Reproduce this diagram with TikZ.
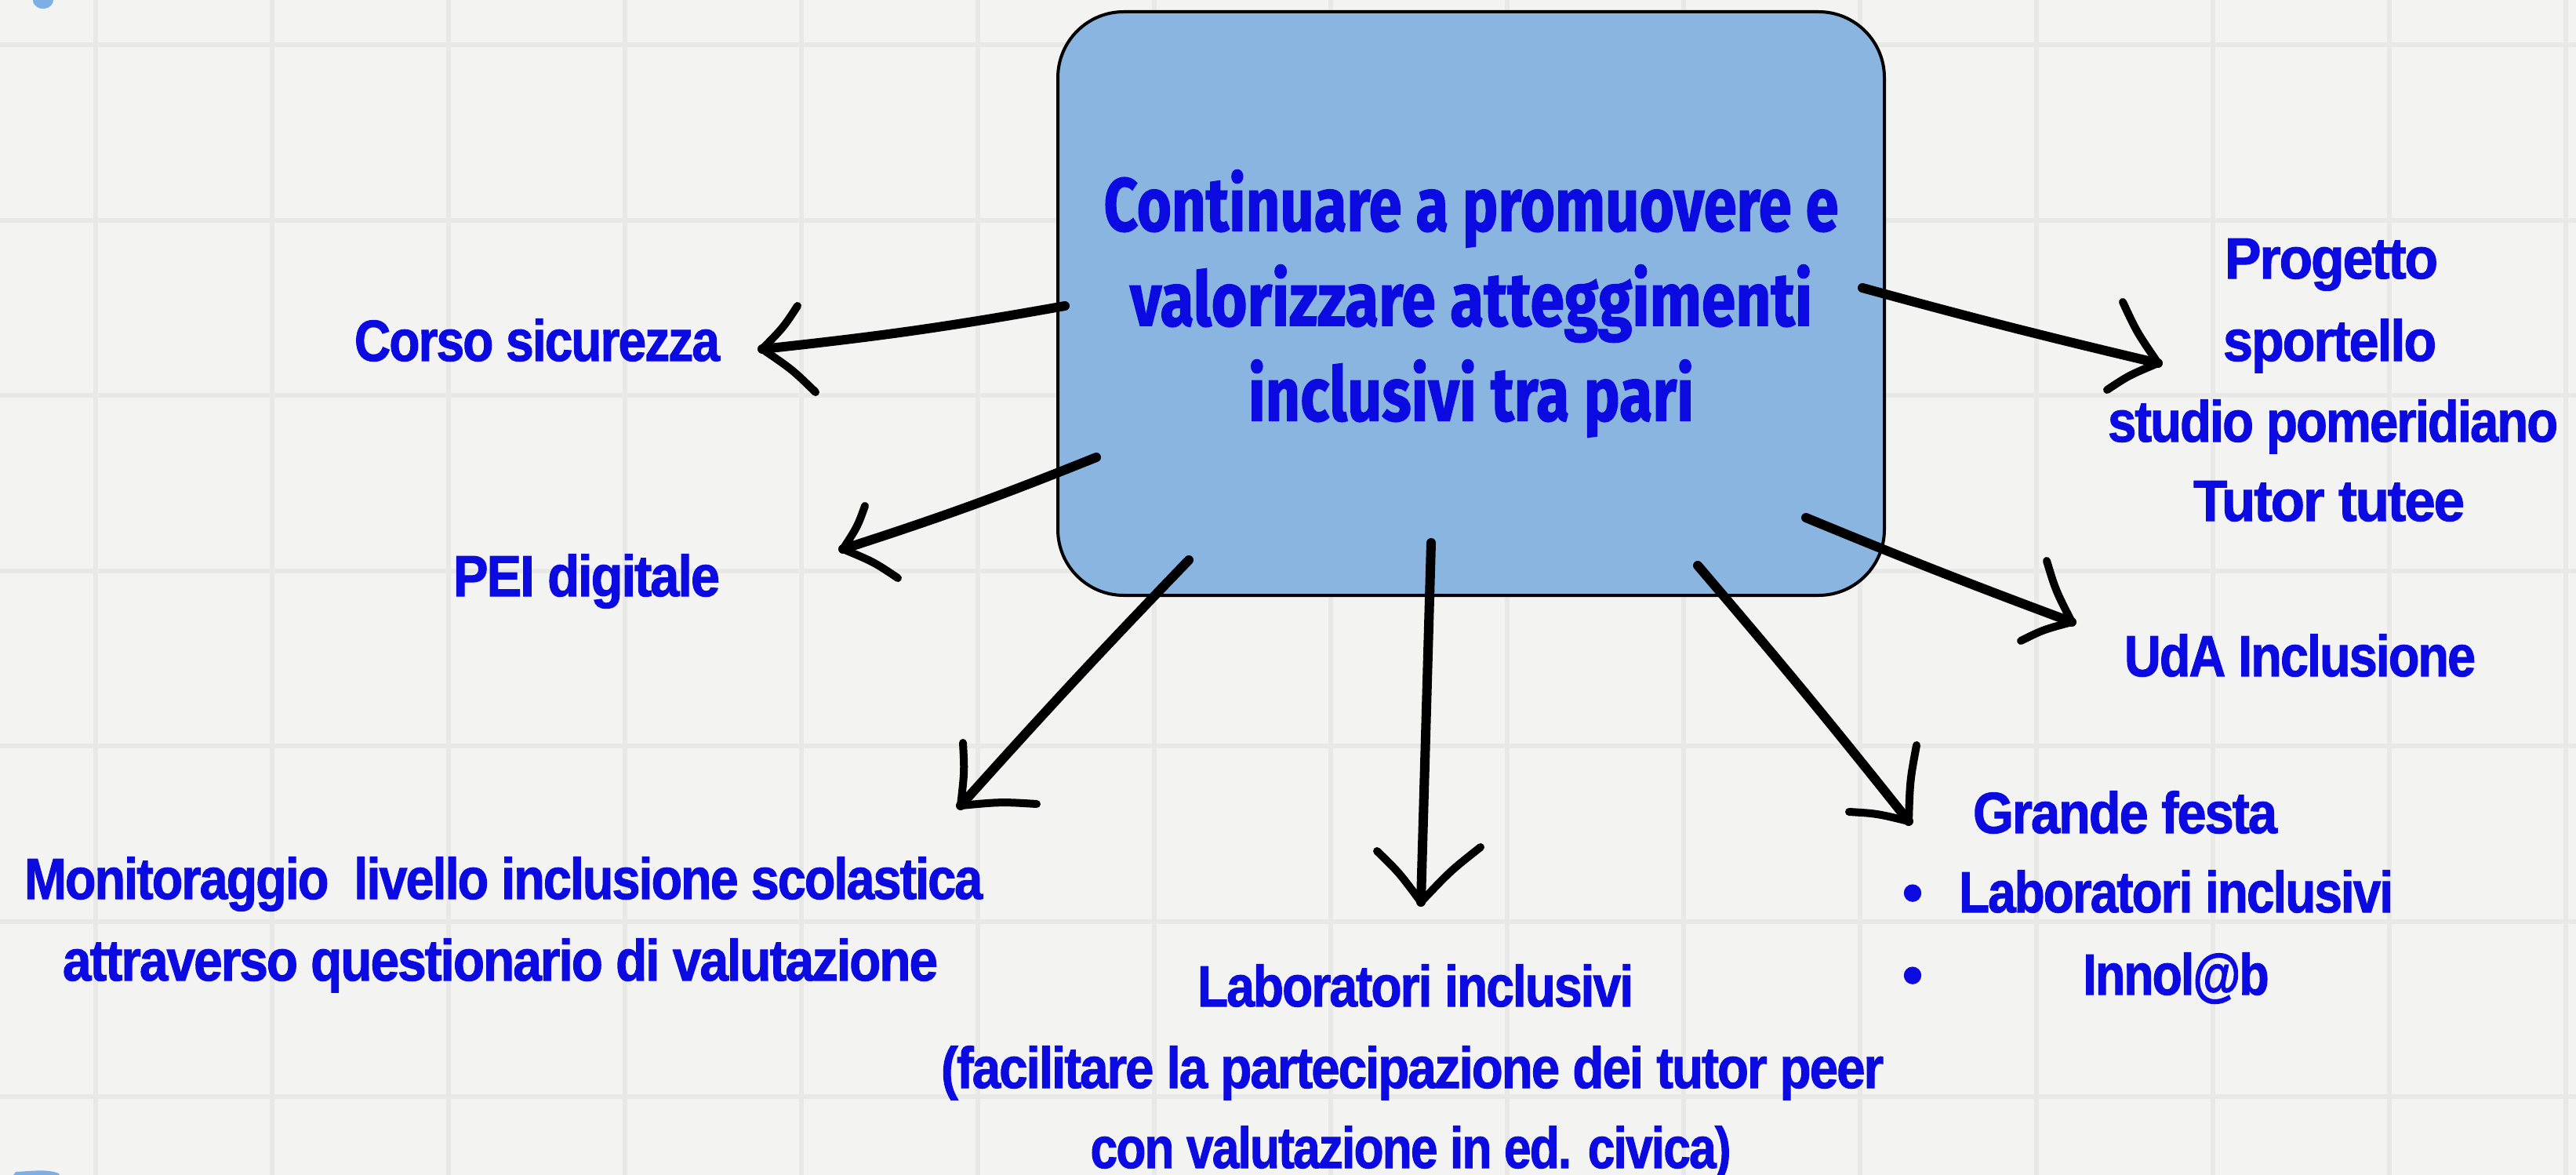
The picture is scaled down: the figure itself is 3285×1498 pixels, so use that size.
\documentclass[tikz,border=0pt]{standalone}
\usepackage{fontspec}
\usepackage{graphicx}
\setmainfont{Liberation Sans}[LetterSpace=-3, BoldFeatures={FakeBold=1.5}]
\newfontfamily\titlefont{Fira Sans}[BoldFeatures={FakeBold=1.5}]
\usetikzlibrary{calc}
\definecolor{bg}{HTML}{F3F3F1}
\definecolor{gridc}{HTML}{E8E8E6}
\definecolor{boxblue}{HTML}{8AB5E1}
\definecolor{blobblue}{HTML}{7DAFE4}
\definecolor{txtblue}{RGB}{10,10,225}
\newdimen\pxu \pxu=0.25pt
\newcommand\fitw[2]{\resizebox{#1\pxu}{\height}{#2}}
\newcommand\handarrow[6]{%
  \coordinate (#1S) at #2;
  \coordinate (#1T) at #3;
  \coordinate (#1A) at #4;
  \coordinate (#1B) at #5;
  \coordinate (#1mA) at ($(#1T)!0.5!(#1A)$);
  \coordinate (#1mB) at ($(#1T)!0.5!(#1B)$);
  \draw[shaft] (#1S) to[bend left=#6] (#1T);
  \draw[barb] (#1T) .. controls ($(#1mA)!1.2pt!(#1S)$) .. (#1A);
  \draw[barb] (#1T) .. controls ($(#1mB)!1.2pt!(#1S)$) .. (#1B);
}
\tikzset{
  lab/.style={text=txtblue, inner sep=0pt, anchor=base,
    font=\fontsize{18.5}{20}\selectfont\bfseries},
  gridline/.style={draw=gridc, line width=1.5pt},
  shaft/.style={line width=3pt, line cap=round, black},
  barb/.style={line width=2.5pt, line cap=round, black},
  mainbox/.style={draw=black, line width=1pt, fill=boxblue,
    rounded corners=21pt, minimum width=263.5pt, minimum height=186pt,
    inner sep=0pt, align=center, text=txtblue,
    font=\titlefont\fontsize{24}{30.25}\selectfont\bfseries}
}
\begin{document}
\begin{tikzpicture}[x=0.25pt, y=-0.25pt]
\useasboundingbox (0,0) rectangle (3285,1498);
\fill[bg] (0,0) rectangle (3285,1498);
% paper grid
\foreach \k in {0,...,6} \draw[gridline] (0,{57+223.5*\k}) -- (3285,{57+223.5*\k});
\foreach \k in {0,...,14} \draw[gridline] ({122+225*\k},0) -- ({122+225*\k},1498);
% small blue marks at the left edge
\fill[blobblue] (42,0) .. controls (42,8) and (50,12) .. (57,11) .. controls (64,10) and (68,5) .. (68,0) -- cycle;
\fill[blobblue] (17,1498) -- (20,1494) .. controls (40,1493) and (60,1490) .. (75,1496) -- (76,1498) -- cycle;
% central box
\node[mainbox] (title) at (1876,387)
  {\fitw{937}{Continuare a promuovere e}\\
   \fitw{870}{valorizzare atteggimenti}\\
   \fitw{568}{inclusivi tra pari}};
% labels
\node[lab] (corso) at (685,460) {\fitw{466}{Corso sicurezza}};
\node[lab] (pei) at (748,760) {\fitw{340}{PEI digitale}};
\node[lab] (mon1) at (642,1146) {\fitw{1222}{Monitoraggio \ livello inclusione scolastica}};
\node[lab] (mon2) at (638,1250) {\fitw{1116}{attraverso questionario di valutazione}};
\node[lab] (lab1) at (1805,1283) {\fitw{556}{Laboratori inclusivi}};
\node[lab] (lab2) at (1801,1387) {\fitw{1202}{(facilitare la partecipazione dei tutor peer}};
\node[lab] (lab3) at (1799,1489) {\fitw{817}{con valutazione in ed. civica)}};
\node[lab] (prog1) at (2973,355) {\fitw{272}{Progetto}};
\node[lab] (prog2) at (2971,460) {\fitw{272}{sportello}};
\node[lab] (prog3) at (2975,563) {\fitw{574}{studio pomeridiano}};
\node[lab] (prog4) at (2970,664) {\fitw{346}{Tutor tutee}};
\node[lab] (uda) at (2933,862) {\fitw{448}{UdA Inclusione}};
\node[lab] (festa) at (2710,1062) {\fitw{388}{Grande festa}};
\node[lab] (bul1) at (2439,1163) {•};
\node[lab] (festa1) at (2775,1163) {\fitw{554}{Laboratori inclusivi}};
\node[lab] (bul2) at (2439,1268) {•};
\node[lab] (festa2) at (2775,1268) {\fitw{237}{Innol@b}};
% hand-drawn arrows
\handarrow{a}{(1358,390)}{(972,445)}{(1017,390)}{(1040,500)}{2}
\handarrow{b}{(1398,583)}{(1075,700)}{(1103,645)}{(1145,737)}{2}
\handarrow{c}{(1516,714)}{(1225,1027)}{(1228,947)}{(1322,1025)}{-1}
\handarrow{d}{(1825,692)}{(1812,1150)}{(1756,1085)}{(1888,1080)}{0}
\handarrow{e}{(2165,721)}{(2434,1047)}{(2444,950)}{(2358,1035)}{1}
\handarrow{f}{(2303,660)}{(2642,793)}{(2610,715)}{(2577,817)}{-1}
\handarrow{g}{(2375,367)}{(2752,463)}{(2707,385)}{(2687,497)}{-1}
\end{tikzpicture}
\end{document}
